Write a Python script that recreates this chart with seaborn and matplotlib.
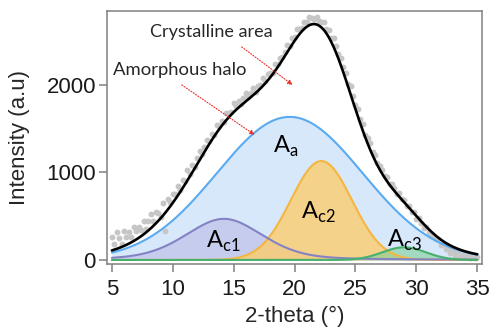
import numpy as np
import seaborn as sns
import matplotlib.pyplot as plt

# measured pattern: 2-theta scan from 5 to 35 deg, step 0.2 deg
scan_start, scan_stop, scan_step = 5.0, 35.0, 0.2
intensity = [
    259, 178, 317, 247, 188, 330, 263, 317, 262, 377,
    334, 372, 342, 442, 354, 448, 522, 449, 546, 535,
    496, 648, 330, 698, 664, 753, 752, 843, 795, 909,
    903, 1028, 984, 1081, 1058, 1165, 1242, 1209, 1296, 1371,
    1356, 1440, 1433, 1543, 1533, 1590, 1576, 1679, 1681, 1691,
    1789, 1756, 1811, 1786, 1849, 1903, 1866, 1909, 1963, 1917,
    1993, 2000, 2079, 2049, 2122, 2136, 2142, 2241, 2241, 2303,
    2316, 2380, 2454, 2449, 2532, 2544, 2634, 2641, 2654, 2722,
    2715, 2772, 2762, 2755, 2771, 2728, 2717, 2718, 2641, 2627,
    2534, 2535, 2440, 2349, 2313, 2203, 2140, 2015, 1989, 1872,
    1766, 1721, 1609, 1549, 1432, 1389, 1340, 1236, 1195, 1110,
    1078, 1023, 959, 947, 869, 863, 819, 756, 764, 700,
    690, 618, 617, 545, 543, 472, 481, 420, 370, 381,
    323, 277, 291, 237, 234, 173, 183, 126, 140, 85,
    101, 49, 87, 37, 58, 29, 61, 23, 36, 20,
    34,
]

# fitted peaks (pseudo-Voigt): center, height, fwhm, lorentz fraction
peak_names = ['a', 'c1', 'c2', 'c3']
peak_center = [19.6, 14.2, 22.2, 29.0]
peak_height = [1635, 470, 1130, 145]
peak_fwhm = [14.1, 7.5, 5.9, 4.2]
peak_eta = [0.0, 0.3, 0.0, 0.0]

line_colors = ['#5aaaf0', '#8582c4', '#f5b640', '#47b06c']
fill_colors = ['#d7e8fb', '#b0aade', '#fccd6e', '#7fcf98']
fill_alpha = [1.0, 0.45, 0.8, 0.6]
# label positions (left edge of "A", baseline)
label_x = [18.2, 12.7, 20.5, 27.6]
label_y = [1223, 137, 469, 149]


def pvoigt(x, c, h, w, eta):
    s = w / 2.3548
    g = np.exp(-(x - c) ** 2 / (2 * s ** 2))
    l = 1 / (1 + ((x - c) / (w / 2)) ** 2)
    return h * ((1 - eta) * g + eta * l)


two_theta = np.linspace(scan_start, scan_stop, len(intensity))
xf = np.linspace(scan_start, scan_stop, 600)
comps = [pvoigt(xf, c, h, w, e) for c, h, w, e in zip(peak_center, peak_height, peak_fwhm, peak_eta)]
fit_total = np.sum(comps, axis=0)

sns.set_theme(style='ticks')
plt.rcParams['font.family'] = ['Liberation Sans', 'DejaVu Sans']
plt.rcParams['mathtext.fontset'] = 'custom'
plt.rcParams['mathtext.rm'] = 'Lato'

fig = plt.figure(figsize=(4.92, 3.30), dpi=100)
ax = fig.add_axes([0.2175, 0.2, 0.7625, 0.767])

for i in range(len(comps)):
    ax.fill_between(xf, 0, comps[i], color=fill_colors[i], alpha=fill_alpha[i], linewidth=0, zorder=1 + i)

sns.scatterplot(x=two_theta, y=intensity, ax=ax, color='#c6c6c6', s=18, linewidth=0, zorder=6)

for i in [0, 2, 1, 3]:
    sns.lineplot(x=xf, y=comps[i], ax=ax, color=line_colors[i], linewidth=1.5, zorder=7)
sns.lineplot(x=xf, y=fit_total, ax=ax, color='black', linewidth=1.9, zorder=8)

for i, name in enumerate(peak_names):
    ax.text(label_x[i], label_y[i], r'A$_{\mathrm{' + name + '}}$', fontsize=17,
            family='Lato', ha='left', va='baseline', color='black', zorder=9)

ax.text(8.1, 2606, 'Crystalline area', fontsize=13, family='Lato', ha='left', va='center')
ax.text(5.08, 2171, 'Amorphous halo', fontsize=13.3, family='Lato', ha='left', va='center')
arrow = dict(arrowstyle='-|>', linestyle=(0, (1, 1.5)), color='#e8302a', lw=0.8,
             mutation_scale=7, shrinkA=0, shrinkB=0)
ax.annotate('', xy=(19.84, 2000), xytext=(15.66, 2434), arrowprops=arrow, zorder=9)
ax.annotate('', xy=(16.72, 1429), xytext=(10.74, 2000), arrowprops=arrow, zorder=9)

ax.set_xlim(4.6, 35.4)
ax.set_ylim(-46, 2846)
ax.set_xticks([5, 10, 15, 20, 25, 30, 35])
ax.set_yticks([0, 1000, 2000])
ax.set_xlabel('2-theta (°)', fontsize=16, labelpad=4)
ax.set_ylabel('Intensity (a.u)', fontsize=16, labelpad=12)
ax.tick_params(axis='both', labelsize=16, length=6, width=1.1, color='#808080',
               direction='out', pad=2, labelcolor='#1a1a1a')
ax.tick_params(axis='x', pad=5)
for sp in ax.spines.values():
    sp.set_visible(True)
    sp.set_color('#808080')
    sp.set_linewidth(1.1)

fig.savefig('out.png', dpi=100)
